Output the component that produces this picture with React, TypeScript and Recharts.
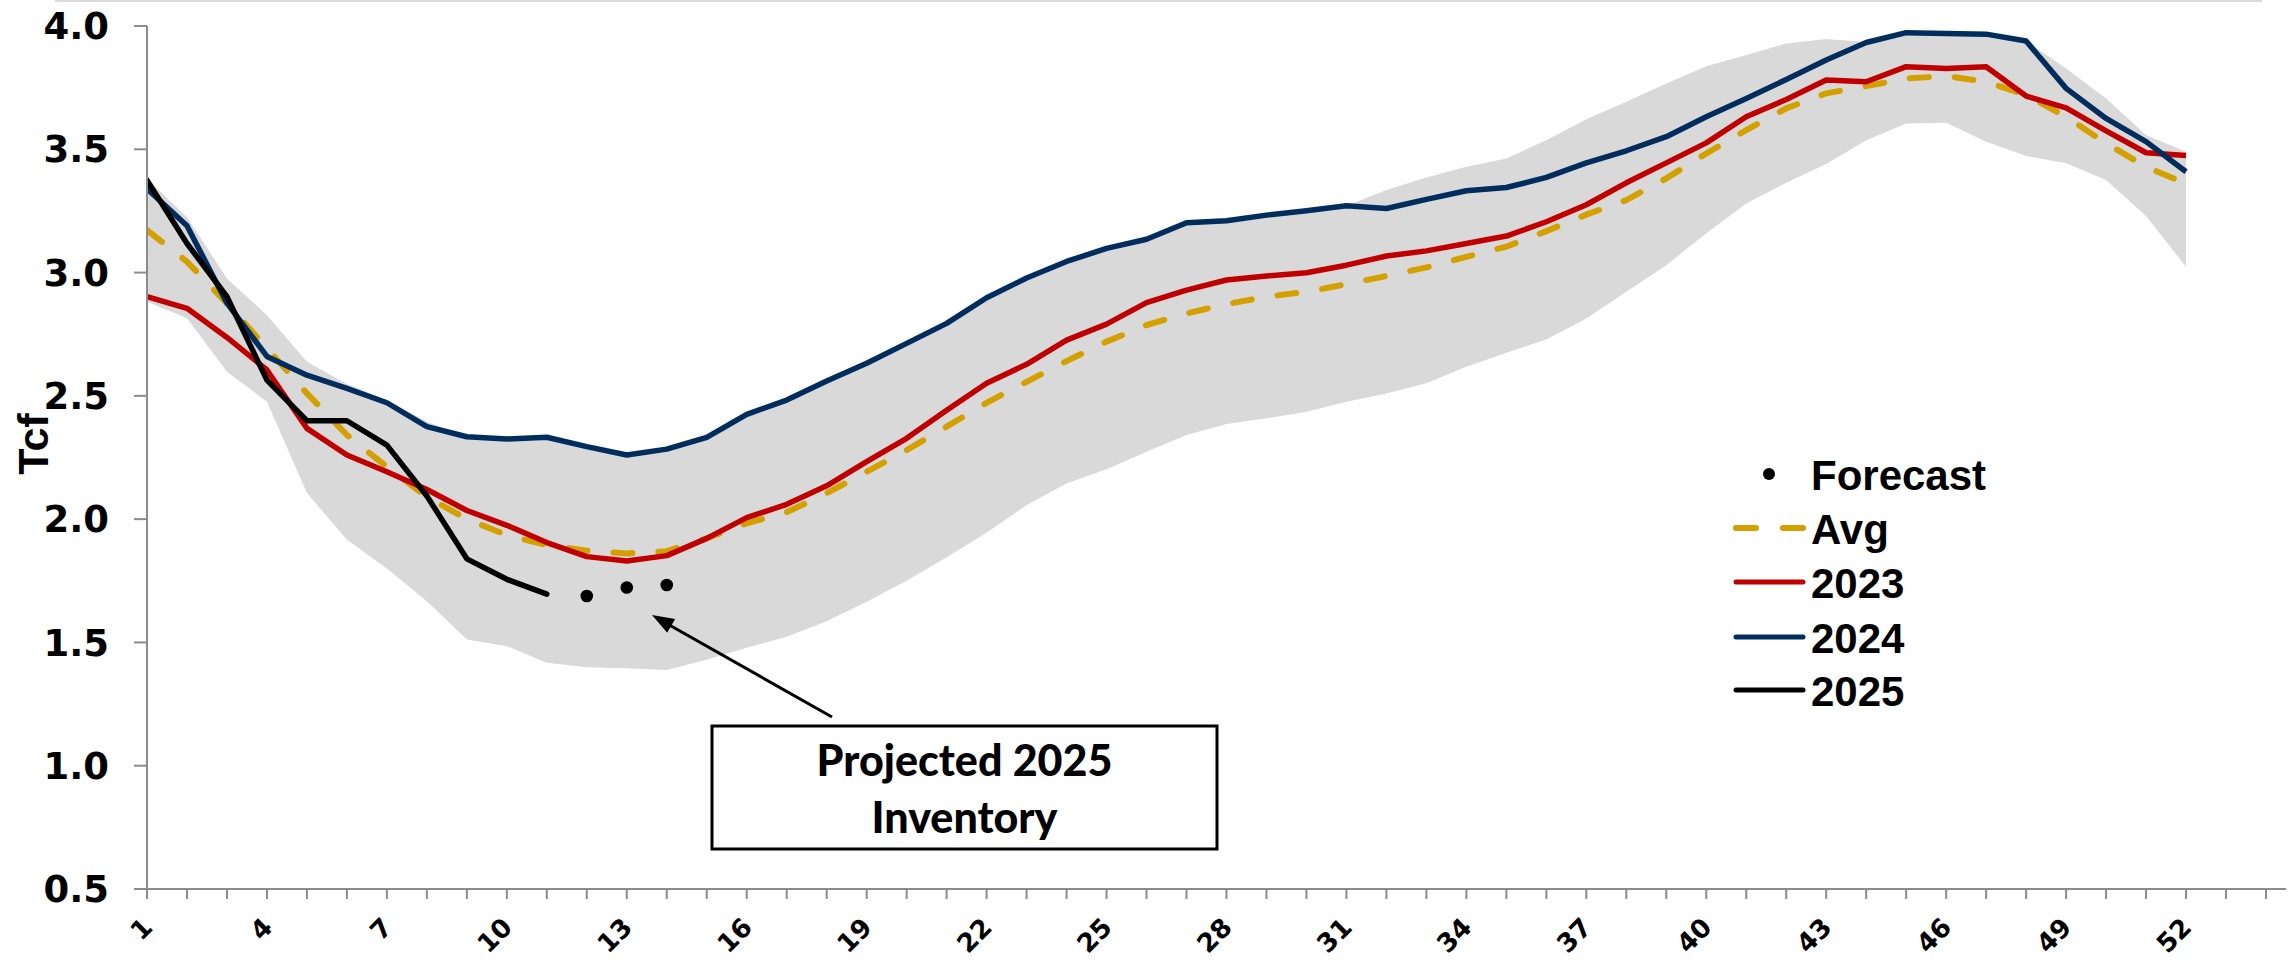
import React from "react";
import { ComposedChart, Area, Line, XAxis, YAxis } from "recharts";

// weekly working gas inventory, Tcf
const WEEKS = [
  1, 2, 3, 4, 5, 6, 7, 8, 9, 10, 11, 12, 13, 14, 15, 16, 17, 18, 19, 20, 21, 22, 23, 24, 25, 26,
  27, 28, 29, 30, 31, 32, 33, 34, 35, 36, 37, 38, 39, 40, 41, 42, 43, 44, 45, 46, 47, 48, 49, 50, 51, 52,
];

const AVG = [
  3.172, 3.044, 2.875, 2.693, 2.51, 2.341, 2.212, 2.09, 2.0, 1.935,
  1.895, 1.872, 1.861, 1.87, 1.922, 1.983, 2.028, 2.105, 2.192, 2.28,
  2.375, 2.472, 2.557, 2.641, 2.72, 2.787, 2.834, 2.872, 2.902, 2.922,
  2.953, 2.986, 3.021, 3.064, 3.105, 3.168, 3.235, 3.294, 3.382, 3.483,
  3.578, 3.666, 3.727, 3.756, 3.787, 3.797, 3.774, 3.72, 3.632, 3.524,
  3.429, 3.36,
];

const Y2023 = [
  2.902, 2.855, 2.737, 2.605, 2.368, 2.26, 2.192, 2.12, 2.035, 1.975,
  1.905, 1.848, 1.83, 1.852, 1.922, 2.006, 2.06, 2.135, 2.233, 2.328,
  2.442, 2.551, 2.628, 2.726, 2.791, 2.878, 2.929, 2.97, 2.986, 2.999,
  3.03, 3.067, 3.088, 3.118, 3.148, 3.206, 3.275, 3.364, 3.445, 3.526,
  3.632, 3.702, 3.781, 3.774, 3.835, 3.828, 3.835, 3.716, 3.668, 3.575,
  3.486, 3.475,
];

const Y2024 = [
  3.34, 3.19, 2.876, 2.66, 2.584, 2.53, 2.472, 2.375, 2.334, 2.325,
  2.332, 2.294, 2.26, 2.284, 2.332, 2.425, 2.483, 2.56, 2.632, 2.713,
  2.794, 2.898, 2.978, 3.045, 3.098, 3.135, 3.202, 3.21, 3.233, 3.251,
  3.271, 3.26, 3.297, 3.332, 3.345, 3.386, 3.445, 3.494, 3.551, 3.632,
  3.706, 3.783, 3.862, 3.933, 3.973, 3.97, 3.967, 3.939, 3.747, 3.625,
  3.531, 3.409,
];

const Y2025 = [3.375, 3.118, 2.902, 2.564, 2.399, 2.399, 2.3, 2.094, 1.839, 1.756, 1.696];

const FORECAST_WEEKS = [12, 13, 14];
const FORECAST = [1.688, 1.723, 1.733];

// 5-year min / max range
const RANGE_LOW = [
  2.882, 2.815, 2.598, 2.476, 2.106, 1.916, 1.8, 1.667, 1.512, 1.485,
  1.418, 1.399, 1.395, 1.388, 1.43, 1.478, 1.523, 1.586, 1.665, 1.75,
  1.845, 1.945, 2.057, 2.145, 2.202, 2.273, 2.341, 2.386, 2.409, 2.436,
  2.476, 2.51, 2.551, 2.618, 2.675, 2.729, 2.814, 2.922, 3.03, 3.159,
  3.28, 3.364, 3.44, 3.537, 3.605, 3.608, 3.531, 3.473, 3.443, 3.375,
  3.229, 3.024,
];

const RANGE_HIGH = [
  3.38, 3.224, 2.976, 2.827, 2.638, 2.548, 2.483, 2.395, 2.334, 2.325,
  2.332, 2.294, 2.26, 2.284, 2.332, 2.425, 2.483, 2.56, 2.632, 2.713,
  2.794, 2.898, 2.978, 3.045, 3.098, 3.135, 3.202, 3.21, 3.233, 3.251,
  3.271, 3.335, 3.386, 3.429, 3.463, 3.537, 3.622, 3.693, 3.767, 3.837,
  3.882, 3.929, 3.947, 3.935, 3.973, 3.97, 3.967, 3.939, 3.828, 3.706,
  3.558, 3.49,
];

const X_TICKS = Array.from({ length: 54 }, (_, i) => i + 1);
const X_LABELS = [1, 4, 7, 10, 13, 16, 19, 22, 25, 28, 31, 34, 37, 40, 43, 46, 49, 52];
const Y_TICKS = [0.5, 1.0, 1.5, 2.0, 2.5, 3.0, 3.5, 4.0];

const LEGEND = ["Forecast", "Avg", "2023", "2024", "2025"];

const COLORS = {
  band: "#D9D9D9",
  avg: "#D4A000",
  y2023: "#C00000",
  y2024: "#002D5E",
  y2025: "#000000",
  axis: "#8C8C8C",
};

const data = WEEKS.map((w, i) => {
  const f = FORECAST_WEEKS.indexOf(w);
  return {
    week: w,
    range: [RANGE_LOW[i], RANGE_HIGH[i]],
    avg: AVG[i],
    y2023: Y2023[i],
    y2024: Y2024[i],
    y2025: i < Y2025.length ? Y2025[i] : null,
    forecast: f >= 0 ? FORECAST[f] : null,
  };
});

const WeekTick = (props: any) => {
  const { x, y, payload } = props;
  if (!X_LABELS.includes(payload.value)) return <g />;
  const ax = x + 7;
  const ay = y + 30;
  return (
    <text
      x={ax}
      y={ay}
      transform={`rotate(-45 ${ax} ${ay})`}
      textAnchor="end"
      fontFamily="DejaVu Sans"
      fontWeight={700}
      fontSize={26}
      fill="#000"
    >
      {payload.value}
    </text>
  );
};

const ForecastDot = (props: any) => {
  const { cx, cy, value, index } = props;
  if (value == null || cy == null) return <g key={`fd-${index}`} />;
  return <circle key={`fd-${index}`} cx={cx} cy={cy} r={6.3} fill="#000" />;
};

function arrowHead(x1: number, y1: number, x2: number, y2: number, len: number, half: number) {
  const dx = x2 - x1;
  const dy = y2 - y1;
  const d = Math.sqrt(dx * dx + dy * dy);
  const ux = dx / d;
  const uy = dy / d;
  const bx = x2 - ux * len;
  const by = y2 - uy * len;
  return `${x2},${y2} ${bx - uy * half},${by + ux * half} ${bx + uy * half},${by - ux * half}`;
}

export default function App() {
  const legendFont = { fontFamily: "Liberation Sans, Arial, sans-serif", fontWeight: 700, fontSize: 42 };
  const rowY = [474, 528, 582, 637, 690];

  return (
    <div
      style={{
        position: "absolute",
        left: 0,
        top: 0,
        width: 2288,
        height: 962,
        background: "#FFFFFF",
        overflow: "hidden",
      }}
    >
      <div style={{ position: "absolute", left: 55, top: 0, width: 2207, height: 2, background: "#DADADA" }} />
      <ComposedChart width={2288} height={962} data={data} margin={{ top: 26, right: 2, bottom: 0, left: 0 }}>
        <XAxis
          type="number"
          dataKey="week"
          domain={[1, 54.5]}
          ticks={X_TICKS}
          interval={0}
          allowDataOverflow
          height={73}
          tickSize={10}
          tickMargin={0}
          tick={<WeekTick />}
          axisLine={{ stroke: COLORS.axis, strokeWidth: 2 }}
          tickLine={{ stroke: COLORS.axis, strokeWidth: 2 }}
        />
        <YAxis
          type="number"
          domain={[0.5, 4]}
          ticks={Y_TICKS}
          interval={0}
          width={147}
          tickSize={13}
          tickMargin={25}
          tickFormatter={(v: number) => v.toFixed(1)}
          tick={{ fontFamily: "DejaVu Sans", fontWeight: 700, fontSize: 37, fill: "#000" }}
          axisLine={{ stroke: COLORS.axis, strokeWidth: 2 }}
          tickLine={{ stroke: COLORS.axis, strokeWidth: 2 }}
        />
        <Area
          type="linear"
          dataKey="range"
          fill={COLORS.band}
          fillOpacity={1}
          stroke="none"
          isAnimationActive={false}
        />
        <Line
          type="linear"
          dataKey="avg"
          stroke={COLORS.avg}
          strokeWidth={6}
          strokeDasharray="19 26"
          strokeLinecap="round"
          dot={false}
          isAnimationActive={false}
        />
        <Line
          type="linear"
          dataKey="y2023"
          stroke={COLORS.y2023}
          strokeWidth={5.5}
          strokeLinejoin="round"
          dot={false}
          isAnimationActive={false}
        />
        <Line
          type="linear"
          dataKey="y2024"
          stroke={COLORS.y2024}
          strokeWidth={5.5}
          strokeLinejoin="round"
          dot={false}
          isAnimationActive={false}
        />
        <Line
          type="linear"
          dataKey="y2025"
          stroke={COLORS.y2025}
          strokeWidth={5.5}
          strokeLinejoin="round"
          strokeLinecap="round"
          connectNulls={false}
          dot={false}
          isAnimationActive={false}
        />
        <Line
          type="linear"
          dataKey="forecast"
          stroke="none"
          connectNulls={false}
          dot={<ForecastDot />}
          activeDot={false}
          isAnimationActive={false}
        />
      </ComposedChart>

      <svg
        width={2288}
        height={962}
        style={{ position: "absolute", left: 0, top: 0, pointerEvents: "none" }}
      >
        <text
          transform="translate(48,444) rotate(-90)"
          textAnchor="middle"
          fontFamily="Liberation Sans, Arial, sans-serif"
          fontWeight={700}
          fontSize={43}
          fill="#000"
        >
          Tcf
        </text>

        {/* legend */}
        <circle cx={1769} cy={rowY[0]} r={6} fill="#000" />
        <line x1={1736} y1={rowY[1]} x2={1756} y2={rowY[1]} stroke={COLORS.avg} strokeWidth={6} strokeLinecap="round" />
        <line x1={1783} y1={rowY[1]} x2={1803} y2={rowY[1]} stroke={COLORS.avg} strokeWidth={6} strokeLinecap="round" />
        <line x1={1736} y1={rowY[2]} x2={1803} y2={rowY[2]} stroke={COLORS.y2023} strokeWidth={5} strokeLinecap="round" />
        <line x1={1736} y1={rowY[3]} x2={1803} y2={rowY[3]} stroke={COLORS.y2024} strokeWidth={5} strokeLinecap="round" />
        <line x1={1736} y1={rowY[4]} x2={1803} y2={rowY[4]} stroke={COLORS.y2025} strokeWidth={5} strokeLinecap="round" />
        {LEGEND.map((label, i) => (
          <text key={label} x={1811} y={rowY[i] + 16} {...legendFont} fill="#000">
            {label}
          </text>
        ))}

        {/* annotation */}
        <line x1={832} y1={717} x2={664} y2={622} stroke="#000" strokeWidth={3} />
        <polygon points={arrowHead(832, 717, 652, 615, 22, 8)} fill="#000" />
        <rect x={712} y={726} width={505} height={123} fill="#FFFFFF" stroke="#000" strokeWidth={3} />
        <text
          x={964.5}
          y={776}
          textAnchor="middle"
          fontFamily="Lato, sans-serif"
          fontWeight={900}
          fontSize={43}
          fill="#000"
        >
          Projected 2025
        </text>
        <text
          x={964.5}
          y={833}
          textAnchor="middle"
          fontFamily="Lato, sans-serif"
          fontWeight={900}
          fontSize={43}
          fill="#000"
        >
          Inventory
        </text>
      </svg>
    </div>
  );
}
